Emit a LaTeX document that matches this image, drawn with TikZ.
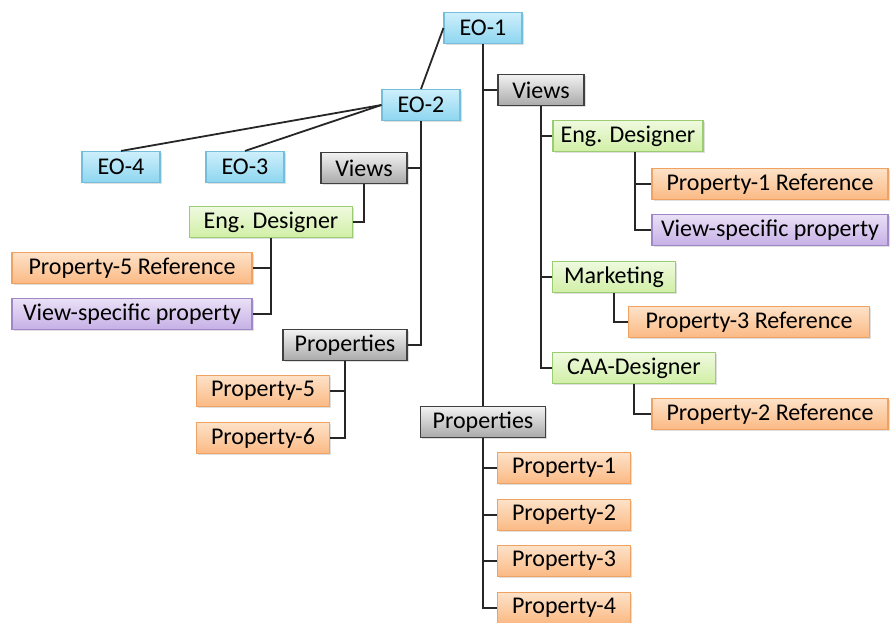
\documentclass[tikz,border=0pt]{standalone}
\usepackage{fontspec}
\setmainfont{Carlito}
\usetikzlibrary{shadows}
\definecolor{eoTop}{HTML}{CDEFFB}
\definecolor{eoBot}{HTML}{8ED6F0}
\definecolor{eoLine}{HTML}{74BEDB}
\definecolor{grTop}{HTML}{F2F2F2}
\definecolor{grBot}{HTML}{A9A9A9}
\definecolor{grLine}{HTML}{404040}
\definecolor{vwTop}{HTML}{F0FADF}
\definecolor{vwBot}{HTML}{D0EFA6}
\definecolor{vwLine}{HTML}{9CCC72}
\definecolor{prTop}{HTML}{FDE2C8}
\definecolor{prBot}{HTML}{FBB984}
\definecolor{prLine}{HTML}{EFA262}
\definecolor{vsTop}{HTML}{EAE0F6}
\definecolor{vsBot}{HTML}{C6B0E6}
\definecolor{vsLine}{HTML}{9E88C6}
\tikzset{
  {base box/.style} ={rectangle, line width=1.1pt, minimum height=31pt,
                inner sep=0pt, font=\fontsize{24}{27}\selectfont,
                drop shadow={opacity=.25, shadow xshift=1.5pt, shadow yshift=-1.5pt},
                minimum width=#1},
  {eo box/.style} ={base box=#1, draw=eoLine, top color=eoTop, bottom color=eoBot},
  {group box/.style} ={base box=#1, draw=grLine, top color=grTop, bottom color=grBot},
  {view box/.style} ={base box=#1, draw=vwLine, top color=vwTop, bottom color=vwBot},
  {prop box/.style} ={base box=#1, draw=prLine, top color=prTop, bottom color=prBot},
  {spec box/.style} ={base box=#1, draw=vsLine, top color=vsTop, bottom color=vsBot},
  link/.style ={line width=1.8pt, draw=black!85},
}
\begin{document}
\begin{tikzpicture}[x=1pt, y=-1pt]
\useasboundingbox (0,0) rectangle (891,622);
% entity objects
\node[eo box=78pt] (eo1) at (483,28) {EO-1};
\node[eo box=78pt] (eo2) at (421,105) {EO-2};
\node[eo box=78pt] (eo3) at (245,167) {EO-3};
\node[eo box=78pt] (eo4) at (121,167) {EO-4};
% EO-2 subtree
\node[group box=86pt] (views2) at (364,168) {Views};
\node[view box=163pt] (eng2) at (271,222) {Eng. Designer};
\node[prop box=240pt] (ref5) at (132,268) {Property-5 Reference};
\node[spec box=240pt] (vsp2) at (132,314) {View-specific property};
\node[group box=124pt] (props2) at (345,345) {Properties};
\node[prop box=133pt] (p5) at (263,391) {Property-5};
\node[prop box=133pt] (p6) at (263,438) {Property-6};
% EO-1 subtree
\node[group box=86pt] (views1) at (541,90) {Views};
\node[view box=150pt] (eng1) at (628,136) {Eng. Designer};
\node[prop box=236pt] (ref1) at (770,184) {Property-1 Reference};
\node[spec box=236pt] (vsp1) at (770,230) {View-specific property};
\node[view box=123pt] (mkt) at (614,277) {Marketing};
\node[prop box=241pt] (ref3) at (749,322) {Property-3 Reference};
\node[view box=163pt] (caa) at (634,368) {CAA-Designer};
\node[prop box=236pt] (ref2) at (770,414) {Property-2 Reference};
\node[group box=125pt] (props1) at (483,422) {Properties};
\node[prop box=133pt] (p1) at (564,468) {Property-1};
\node[prop box=133pt] (p2) at (564,515) {Property-2};
\node[prop box=133pt] (p3) at (564,561) {Property-3};
\node[prop box=133pt] (p4) at (564,608) {Property-4};
% connectors
\begin{scope}[on background layer/.try]
\draw[link] (eo1.west) -- (eo2.north);
\draw[link] (eo2.west) -- (eo4.north);
\draw[link] (eo2.west) -- (eo3.north);
\draw[link] (eo2.south) |- (props2.east);
\draw[link] (eo2.south |- views2.east) -- (views2.east);
\draw[link] (views2.south) |- (eng2.east);
\draw[link] (eng2.south) |- (vsp2.east);
\draw[link] (eng2.south |- ref5.east) -- (ref5.east);
\draw[link] (props2.south) |- (p6.east);
\draw[link] (props2.south |- p5.east) -- (p5.east);
\draw[link] (eo1.south) -- (props1.north);
\draw[link] (eo1.south |- views1.west) -- (views1.west);
\draw[link] (views1.south) |- (caa.west);
\draw[link] (views1.south |- eng1.west) -- (eng1.west);
\draw[link] (views1.south |- mkt.west) -- (mkt.west);
\draw[link] ([xshift=7pt]eng1.south) |- (vsp1.west);
\draw[link] ([xshift=7pt]eng1.south |- ref1.west) -- (ref1.west);
\draw[link] (mkt.south) |- (ref3.west);
\draw[link] (caa.south) |- (ref2.west);
\draw[link] (props1.south) |- (p4.west);
\foreach \p in {p1,p2,p3}
  \draw[link] (props1.south |- \p.west) -- (\p.west);
\end{scope}
\end{tikzpicture}
\end{document}
